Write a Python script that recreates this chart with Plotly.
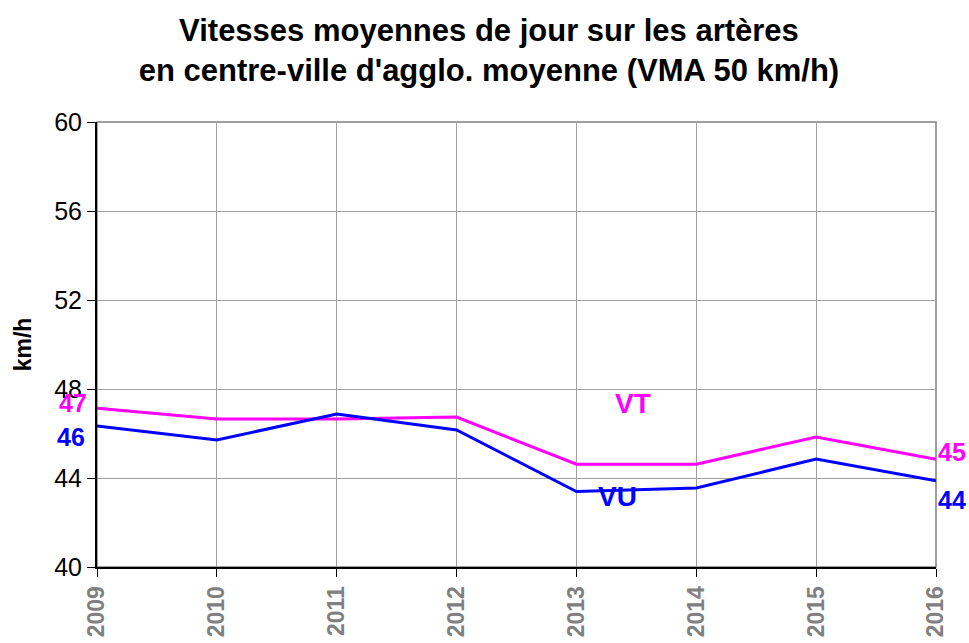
import plotly.graph_objects as go

years = [2009, 2010, 2011, 2012, 2013, 2014, 2015, 2016]
vt = [47.13, 46.65, 46.65, 46.74, 44.62, 44.62, 45.84, 44.84]
vu = [46.34, 45.71, 46.88, 46.16, 43.39, 43.55, 44.85, 43.88]
y_ticks = [40, 44, 48, 52, 56, 60]
title_text = "Vitesses moyennes de jour sur les artères<br>en centre-ville d'agglo. moyenne (VMA 50 km/h)"

MAGENTA = "#FF00FF"
BLUE = "#0000FF"
FONT = "Arial, Liberation Sans, sans-serif"

fig = go.Figure()
fig.add_trace(go.Scatter(x=years, y=vt, mode="lines", line=dict(color=MAGENTA, width=3), name="VT"))
fig.add_trace(go.Scatter(x=years, y=vu, mode="lines", line=dict(color=BLUE, width=3), name="VU"))

annotations = [
    dict(x=years[0], y=vt[0] + 0.25, text=f"<b>{round(vt[0])}</b>", xanchor="right", yanchor="middle",
         xshift=-8, showarrow=False, font=dict(family=FONT, size=25, color=MAGENTA)),
    dict(x=years[0], y=vu[0] - 0.5, text=f"<b>{round(vu[0])}</b>", xanchor="right", yanchor="middle",
         xshift=-10, showarrow=False, font=dict(family=FONT, size=25, color=BLUE)),
    dict(x=years[-1], y=vt[-1] + 0.33, text=f"<b>{round(vt[-1])}</b>", xanchor="left", yanchor="middle",
         xshift=0, showarrow=False, font=dict(family=FONT, size=25, color=MAGENTA)),
    dict(x=years[-1], y=vu[-1] - 0.85, text=f"<b>{round(vu[-1])}</b>", xanchor="left", yanchor="middle",
         xshift=0, showarrow=False, font=dict(family=FONT, size=25, color=BLUE)),
    dict(x=2013.47, y=47.37, text="<b>VT</b>", showarrow=False, xanchor="center", yanchor="middle",
         font=dict(family=FONT, size=28, color=MAGENTA)),
    dict(x=2013.34, y=43.15, text="<b>VU</b>", showarrow=False, xanchor="center", yanchor="middle",
         font=dict(family=FONT, size=28, color=BLUE)),
]

fig.update_layout(
    width=969, height=643,
    margin=dict(l=97, r=33, t=122, b=76, autoexpand=False),
    paper_bgcolor="white", plot_bgcolor="white",
    showlegend=False,
    title=dict(text="<b>" + title_text + "</b>", x=0.5046, xanchor="center", y=0.937, yanchor="top",
               font=dict(family=FONT, size=31, color="black")),
    annotations=annotations,
    shapes=[dict(type="rect", xref="paper", yref="paper", x0=0, y0=0, x1=1, y1=1,
                 line=dict(color="#808080", width=1.5), layer="below")],
)

fig.update_xaxes(
    range=[years[0], years[-1]], tickvals=years, ticktext=[str(y) for y in years],
    tickangle=-90, showgrid=True, gridcolor="#A0A0A0", gridwidth=1,
    showline=True, linecolor="black", linewidth=2, ticks="outside", ticklen=8, tickcolor="black",
    tickfont=dict(family=FONT, size=23, color="#808080", weight="bold"),
    automargin=False, zeroline=False,
)
fig.update_yaxes(
    range=[40, 60], tickvals=y_ticks, showgrid=True, gridcolor="#A0A0A0", gridwidth=1,
    showline=True, linecolor="black", linewidth=2, ticks="outside", ticklen=8, tickcolor="black",
    tickfont=dict(family=FONT, size=25, color="black"),
    title=dict(text="<b>km/h</b>", standoff=16,
               font=dict(family=FONT, size=23, color="black")),
    automargin=False, zeroline=False,
)

fig.write_html(
    "out.html",
    config={"displayModeBar": False},
    post_script="document.body.style.margin='0';document.body.style.overflow='hidden';"
                "document.documentElement.style.overflow='hidden';",
)
